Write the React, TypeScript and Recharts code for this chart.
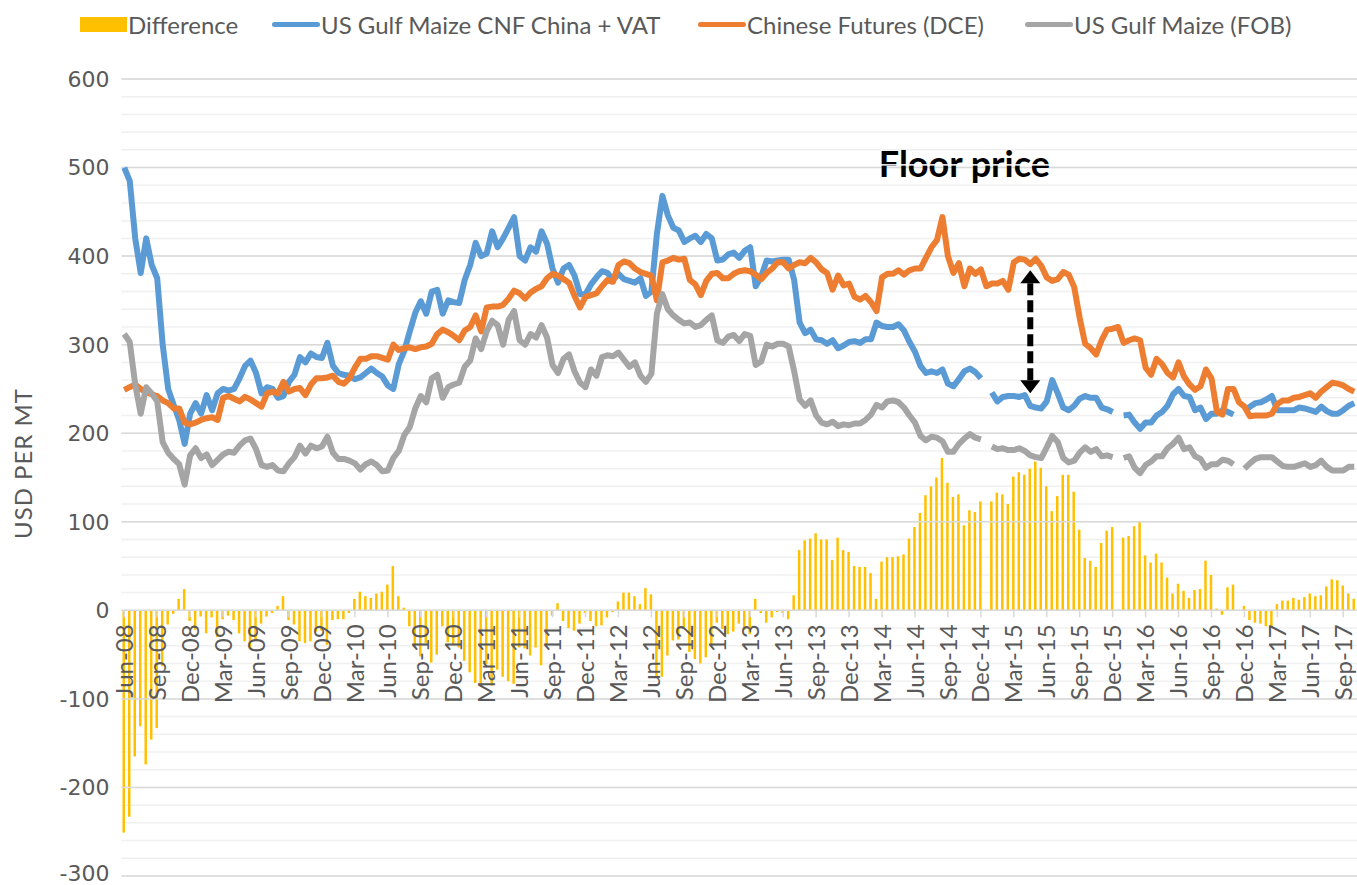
import React from "react"
import { ComposedChart, Bar, Line, XAxis, YAxis, CartesianGrid, ReferenceLine, ReferenceDot } from "recharts"

// Half-monthly readings, Jun-08 through early Oct-17 (USD per MT)
const cnf: (number | null)[] = [
  500, 485, 420, 381, 420, 390, 375, 300, 250, 232,
  215, 188, 222, 234, 222, 243, 226, 245, 250, 248,
  250, 262, 276, 282, 268, 245, 252, 250, 240, 242,
  258, 266, 286, 280, 290, 286, 285, 302, 276, 268,
  266, 265, 261, 263, 268, 273, 268, 264, 254, 250,
  278, 293, 315, 336, 349, 335, 360, 362, 335, 350,
  348, 347, 373, 390, 415, 400, 403, 428, 410, 420,
  432, 444, 400, 395, 410, 405, 428, 414, 386, 370,
  386, 390, 378, 357, 357, 368, 376, 383, 381, 373,
  380, 374, 372, 370, 375, 355, 360, 425, 468, 446,
  432, 429, 416, 420, 423, 416, 425, 420, 395, 396,
  402, 404, 398, 406, 410, 366, 377, 395, 394, 395,
  396, 396, 373, 325, 313, 317, 306, 305, 301, 305,
  296, 299, 303, 304, 302, 306, 306, 325, 321, 320,
  320, 323, 316, 303, 292, 276, 268, 270, 268, 272,
  256, 253, 261, 270, 273, 269, 262, null, 246, 236,
  241, 242, 242, 241, 243, 231, 229, 228, 236, 260,
  245, 229, 226, 231, 239, 242, 240, 240, 229, 227,
  224, null, 220, 221, 212, 205, 212, 212, 220, 224,
  231, 244, 250, 242, 241, 226, 229, 216, 222, 222,
  226, 224, 221, null, 225, 230, 234, 235, 238, 242,
  226, 226, 226, 226, 229, 228, 226, 224, 230, 225,
  222, 222, 226, 231, 234,
]

const dce: (number | null)[] = [
  249, 252, 255, 250, 246, 244, 242, 237, 234, 228,
  228, 212, 210, 212, 215, 217, 218, 215, 240, 242,
  239, 236, 241, 238, 234, 230, 245, 247, 245, 258,
  247, 250, 251, 243, 255, 262, 262, 263, 265, 258,
  256, 262, 274, 284, 284, 287, 287, 285, 283, 300,
  294, 296, 297, 295, 297, 298, 301, 312, 317, 314,
  310, 305, 316, 320, 333, 315, 342, 343, 343, 345,
  352, 361, 358, 352, 359, 363, 366, 375, 380, 378,
  374, 370, 355, 342, 354, 356, 358, 366, 373, 371,
  390, 394, 392, 386, 382, 380, 378, 350, 393, 395,
  398, 396, 397, 373, 368, 356, 372, 380, 381, 375,
  375, 380, 383, 384, 383, 379, 374, 381, 386, 393,
  393, 386, 390, 393, 392, 398, 393, 385, 381, 362,
  378, 367, 369, 354, 351, 355, 348, 338, 376, 380,
  380, 384, 379, 384, 386, 386, 398, 410, 418, 444,
  400, 381, 392, 366, 386, 380, 385, 366, 369, 369,
  372, 362, 393, 397, 396, 391, 397, 389, 376, 372,
  374, 382, 379, 365, 330, 301, 296, 289, 305, 317,
  318, 320, 302, 305, 307, 305, 274, 266, 284, 278,
  268, 263, 280, 264, 255, 249, 253, 272, 262, 224,
  221, 250, 250, 235, 230, 219, 220, 220, 220, 222,
  233, 237, 237, 240, 241, 243, 245, 240, 247, 252,
  257, 256, 254, 250, 247,
]

const fob: (number | null)[] = [
  312, 303, 255, 222, 252, 245, 236, 190, 178, 171,
  165, 142, 175, 183, 172, 176, 164, 170, 176, 179,
  178, 186, 192, 194, 182, 164, 162, 164, 158, 157,
  166, 173, 186, 177, 186, 183, 185, 196, 178, 171,
  171, 169, 166, 159, 165, 168, 164, 157, 158, 172,
  180, 198, 207, 228, 242, 235, 262, 266, 240, 252,
  255, 257, 275, 282, 307, 295, 315, 327, 322, 300,
  328, 338, 305, 300, 312, 308, 322, 308, 277, 268,
  284, 289, 270, 257, 252, 272, 265, 286, 288, 287,
  291, 283, 275, 280, 265, 258, 267, 335, 357, 340,
  333, 328, 324, 325, 320, 322, 328, 333, 305, 302,
  309, 311, 304, 312, 310, 277, 281, 300, 298, 301,
  301, 298, 270, 238, 231, 237, 220, 212, 210, 213,
  208, 210, 209, 211, 211, 215, 221, 232, 229, 236,
  237, 235, 229, 220, 212, 197, 192, 196, 195, 191,
  179, 179, 188, 194, 199, 195, 193, null, 185, 182,
  183, 181, 181, 183, 180, 175, 173, 172, 184, 197,
  190, 172, 167, 169, 178, 184, 179, 182, 174, 175,
  173, null, 172, 174, 161, 155, 164, 168, 174, 174,
  183, 188, 195, 182, 184, 174, 171, 161, 165, 165,
  170, 169, 165, null, 160, 166, 171, 173, 173, 173,
  168, 163, 162, 162, 164, 166, 162, 164, 169, 162,
  158, 158, 158, 162, 162,
]

const MONTHS = ["Jan", "Feb", "Mar", "Apr", "May", "Jun", "Jul", "Aug", "Sep", "Oct", "Nov", "Dec"]
const START_YEAR = 2008
const START_MONTH = 5 // June

// category keys, two per month; the label is the first 6 chars
const periods: string[] = cnf.map((_, i) => {
  const m = START_MONTH + Math.floor(i / 2)
  const yr = (START_YEAR + Math.floor(m / 12)) % 100
  return `${MONTHS[m % 12]}-${String(yr).padStart(2, "0")}${i % 2 ? " b" : " a"}`
})

const Y_MIN = -300
const Y_MAX = 600
const minorTicks: number[] = []
for (let v = Y_MIN; v <= Y_MAX; v += 20) minorTicks.push(v)
const majorTicks = minorTicks.filter(v => v % 100 === 0)

const data = periods.map((p, i) => ({
  p,
  cnf: cnf[i],
  dce: dce[i],
  fob: fob[i],
  diff: cnf[i] == null || dce[i] == null ? null : (dce[i] as number) - (cnf[i] as number),
}))

const W = 1357
const H = 885
const PLOT_TOP = 79
const PLOT_BOTTOM = 876
const ZERO_Y = PLOT_TOP + (Y_MAX / (Y_MAX - Y_MIN)) * (PLOT_BOTTOM - PLOT_TOP)
const FONT = "Lato, 'Open Sans', sans-serif"
const TEXT = "#595959"

const legendItems = [
  { name: "Difference", color: "#FFC000", kind: "bar", left: 80 },
  { name: "US Gulf Maize CNF China + VAT", color: "#5B9BD5", kind: "line", left: 272 },
  { name: "Chinese Futures (DCE)", color: "#ED7D31", kind: "line", left: 698 },
  { name: "US Gulf Maize (FOB)", color: "#A5A5A5", kind: "line", left: 1025 },
]

function QuarterTick(props: any) {
  const { x, payload } = props
  const label = String(payload.value).slice(0, 6)
  return (
    <g>
      <line x1={x} x2={x} y1={ZERO_Y} y2={ZERO_Y + 7} stroke="#d9d9d9" strokeWidth={1.5} />
      <text
        transform={`translate(${x},${ZERO_Y + 14}) rotate(-90)`}
        textAnchor="end"
        dy="0.36em"
        fill={TEXT}
        fontSize={24}
        fontFamily={FONT}
      >
        {label}
      </text>
    </g>
  )
}

// value labels only on the hundreds; keep the bottom one inside the picture
function ValueTick(props: any) {
  const { x, y, payload } = props
  if (payload.value % 100 !== 0) return null
  return (
    <text x={x} y={Math.min(y, H - 12)} dy="0.36em" textAnchor="end" fill={TEXT} fontSize={22} fontFamily="'DejaVu Sans', sans-serif">
      {payload.value}
    </text>
  )
}

function Arrow(props: any) {
  const { x1, y1, y2 } = props
  const top = Math.min(y1, y2)
  const bottom = Math.max(y1, y2)
  const head = 13
  return (
    <g>
      <line x1={x1} x2={x1} y1={top + head} y2={bottom - head} stroke="#000" strokeWidth={6} strokeDasharray="12 5" />
      <polygon points={`${x1},${top} ${x1 - 10},${top + head} ${x1 + 10},${top + head}`} fill="#000" />
      <polygon points={`${x1},${bottom} ${x1 - 10},${bottom - head} ${x1 + 10},${bottom - head}`} fill="#000" />
    </g>
  )
}

function FloorLabel(props: any) {
  const { viewBox } = props
  const cx = viewBox.x + (viewBox.width || 0) / 2
  const cy = viewBox.y + (viewBox.height || 0) / 2
  return (
    <g>
      <text x={cx} y={cy} textAnchor="middle" dominantBaseline="central" fontSize={36} fontWeight={700} fontFamily={FONT} fill="#000">
        Floor price
      </text>
      <rect x={cx - 92} y={cy + 1} width={184} height={1.5} fill="#fff" />
    </g>
  )
}

function YTitle(props: any) {
  const { viewBox } = props
  return (
    <text
      transform={`translate(${viewBox.x + 22},${viewBox.y + viewBox.height / 2 - 14}) rotate(-90)`}
      textAnchor="middle"
      dominantBaseline="central"
      fontSize={24}
      letterSpacing={1}
      fontFamily={FONT}
      fill={TEXT}
    >
      USD PER MT
    </text>
  )
}

export default function App() {
  return (
    <div style={{ position: "absolute", left: 0, top: 0, width: W, height: H, background: "#fff" }}>
      {legendItems.map(it => (
        <div
          key={it.name}
          style={{ position: "absolute", left: it.left, top: 8, height: 32, display: "flex", alignItems: "center", fontFamily: FONT, fontSize: 24, color: TEXT, whiteSpace: "nowrap" }}
        >
          {it.kind === "bar" ? (
            <div style={{ width: 47, height: 15, background: it.color }} />
          ) : (
            <div style={{ width: 48, height: 5, borderRadius: 3, background: it.color }} />
          )}
          <span style={{ marginLeft: 1 }}>{it.name}</span>
        </div>
      ))}
      <ComposedChart width={W} height={H} data={data} margin={{ top: PLOT_TOP, right: 0, bottom: H - PLOT_BOTTOM - 1, left: 0 }}>
        <CartesianGrid vertical={false} stroke="#f0f0f0" strokeWidth={1.5} />
        {majorTicks.filter(v => v !== 0).map(v => (
          <ReferenceLine key={v} y={v} stroke="#d9d9d9" strokeWidth={1.5} />
        ))}
        <XAxis dataKey="p" height={1} interval={5} axisLine={false} tickLine={false} tick={<QuarterTick />} />
        <YAxis
          width={121.5}
          domain={[Y_MIN, Y_MAX]}
          ticks={minorTicks}
          interval={0}
          axisLine={false}
          tickLine={false}
          tickMargin={6}
          tick={<ValueTick />}
          label={<YTitle />}
        />
        <ReferenceLine y={0} stroke="#d9d9d9" strokeWidth={1.5} />
        <Bar dataKey="diff" fill="#FFC000" barSize={2.5} isAnimationActive={false} />
        <Line dataKey="cnf" type="linear" stroke="#5B9BD5" strokeWidth={6} dot={false} strokeLinejoin="round" isAnimationActive={false} />
        <Line dataKey="dce" type="linear" stroke="#ED7D31" strokeWidth={6} dot={false} strokeLinejoin="round" isAnimationActive={false} />
        <Line dataKey="fob" type="linear" stroke="#A5A5A5" strokeWidth={6} dot={false} strokeLinejoin="round" isAnimationActive={false} />
        <ReferenceLine segment={[{ x: periods[165], y: 245 }, { x: periods[165], y: 384 }]} shape={<Arrow />} />
        <ReferenceDot x={periods[153]} y={505} r={0} fill="none" stroke="none" label={<FloorLabel />} />
      </ComposedChart>
    </div>
  )
}
